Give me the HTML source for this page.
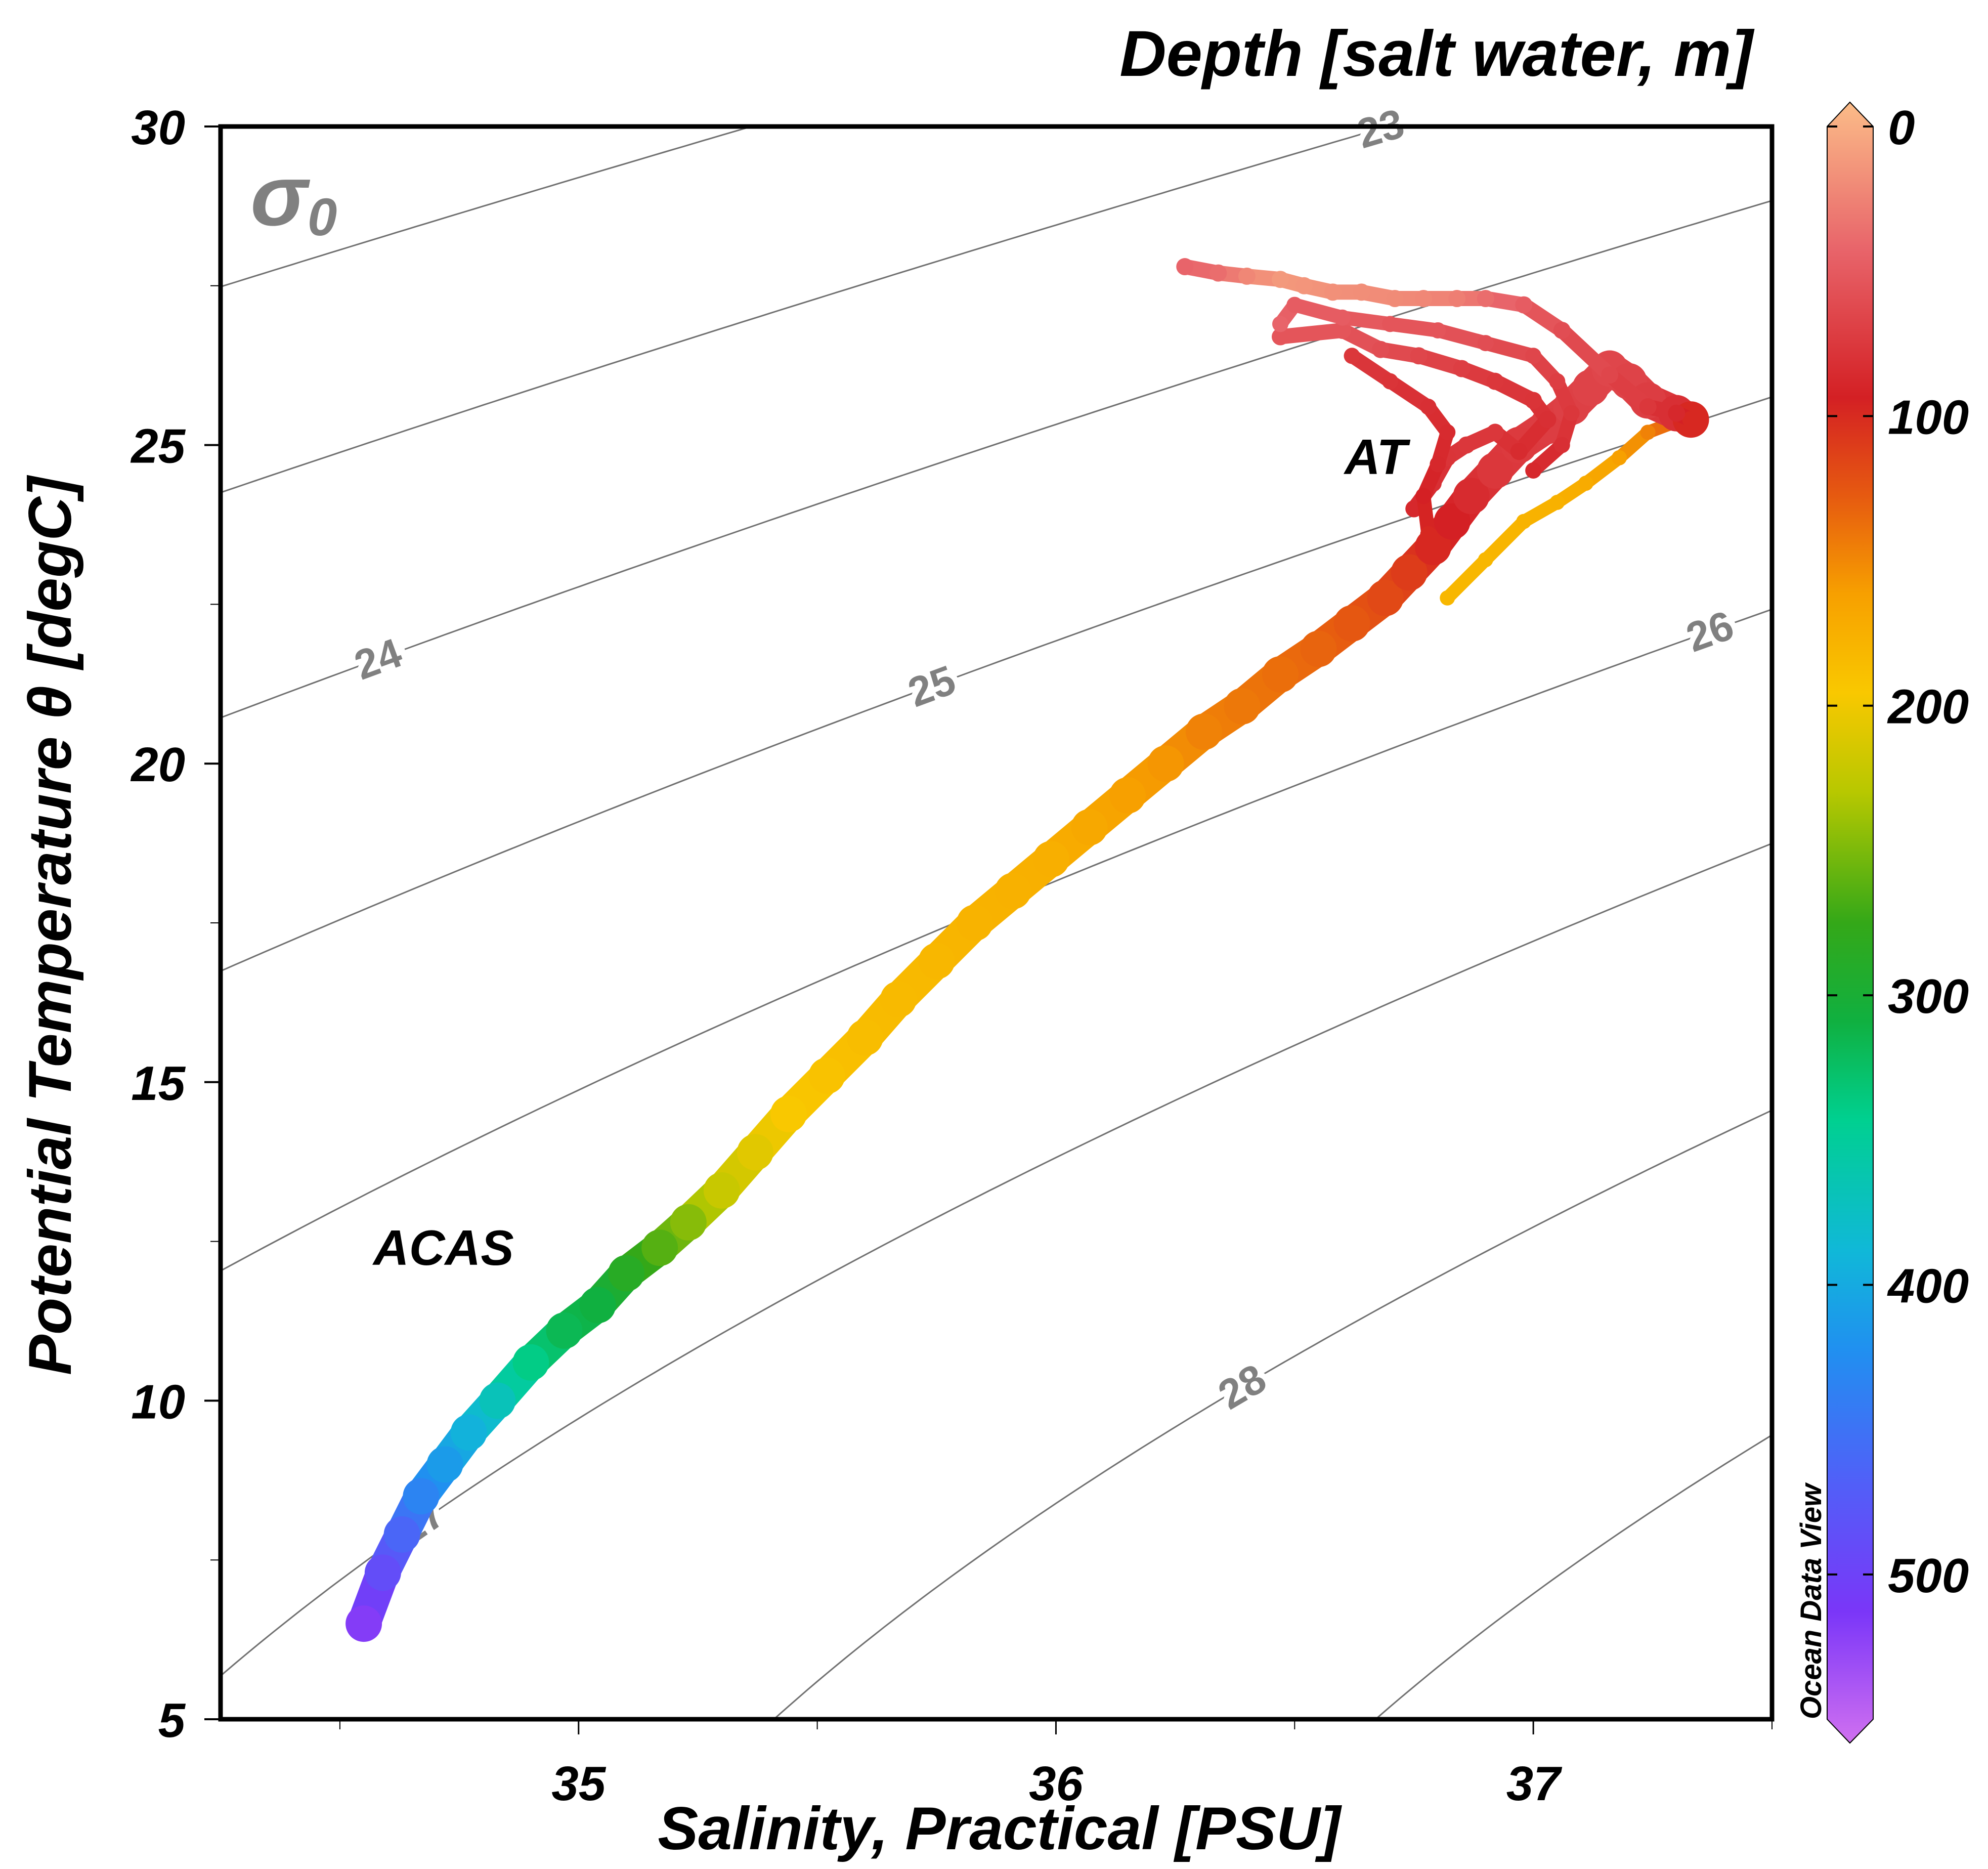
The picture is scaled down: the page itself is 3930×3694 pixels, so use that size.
<!DOCTYPE html>
<html><head><meta charset="utf-8"><style>html,body{margin:0;padding:0;background:#fff;overflow:hidden}svg{display:block}</style></head>
<body>
<svg id="chart" xmlns="http://www.w3.org/2000/svg" width="3930" height="3694" viewBox="0 0 3930 3694" font-family="'Liberation Sans', sans-serif">
<defs>
<linearGradient id="cbgrad" x1="0" y1="0" x2="0" y2="1">
<stop offset="0" stop-color="#fbbc88"/><stop offset="0.09" stop-color="#e8646a"/><stop offset="0.18" stop-color="#d42024"/>
<stop offset="0.24" stop-color="#e65a10"/><stop offset="0.3" stop-color="#f7a000"/><stop offset="0.36" stop-color="#f9c800"/>
<stop offset="0.42" stop-color="#b8c800"/><stop offset="0.5" stop-color="#34a818"/><stop offset="0.56" stop-color="#10b040"/>
<stop offset="0.62" stop-color="#00d090"/><stop offset="0.7" stop-color="#10b8d8"/><stop offset="0.76" stop-color="#2090f0"/>
<stop offset="0.84" stop-color="#5060f8"/><stop offset="0.92" stop-color="#7a36f8"/><stop offset="1" stop-color="#d070f0"/>
</linearGradient>
<clipPath id="plotclip"><rect x="436" y="250" width="3067" height="3148"/></clipPath>
</defs>
<g id="contours" clip-path="url(#plotclip)"></g>
<g id="clabels"></g>
<g id="series" clip-path="url(#plotclip)"></g>
<rect x="436" y="250" width="3067" height="3148" fill="none" stroke="#000" stroke-width="9"/>
<g id="axes"></g>
<text x="495" y="445" font-size="170" font-weight="bold" font-style="italic" fill="#808080">σ<tspan font-size="105" dy="20">0</tspan></text>
<text x="2658" y="937" font-size="98" font-weight="bold" font-style="italic" fill="#000">AT</text>
<text x="738" y="2500" font-size="98" font-weight="bold" font-style="italic" fill="#000">ACAS</text>
<text x="3465" y="150" text-anchor="end" font-size="128" font-weight="bold" font-style="italic">Depth [salt water, m]</text>
<text transform="translate(140,1830) rotate(-90)" text-anchor="middle" font-size="120" font-weight="bold" font-style="italic">Potential Temperature θ [degC]</text>
<text x="1975" y="3655" text-anchor="middle" font-size="120" font-weight="bold" font-style="italic">Salinity, Practical [PSU]</text>
<path d="M3612,3398 V250 L3657,202 L3703,250 V3398 L3657,3445 Z" fill="url(#cbgrad)" stroke="#000" stroke-width="2"/>
<g id="cbticks"></g>
<text transform="translate(3600,3398) rotate(-90)" font-size="58" font-weight="bold" font-style="italic" fill="#000">Ocean Data View</text>
</svg>
<script>
// ---- data ----
const salinity = [34.55,34.59,34.63,34.67,34.72,34.77,34.83,34.9,34.97,35.04,35.1,35.17,35.23,35.3,35.37,35.44,35.52,35.6,35.67,35.75,35.83,35.91,35.99,36.07,36.15,36.23,36.31,36.39,36.47,36.55,36.62,36.69,36.74,36.79,36.83,36.87,36.92,36.97,37.03,37.08,37.12,37.16,37.2,37.24,37.3,37.33];
const temperature = [6.5,7.3,7.9,8.5,9.0,9.5,10.0,10.6,11.1,11.5,12.0,12.4,12.8,13.3,13.9,14.5,15.1,15.7,16.3,16.9,17.5,18.0,18.5,19.0,19.5,20.0,20.5,20.9,21.4,21.8,22.2,22.6,23.0,23.4,23.8,24.2,24.6,25.0,25.3,25.6,25.9,26.2,26.0,25.7,25.5,25.4];
const depth = [510,480,455,430,410,390,370,345,320,310,290,270,255,230,215,200,195,190,188,185,182,180,178,172,165,160,150,145,140,135,128,120,112,100,95,88,80,78,76,74,72,70,72,76,85,100];
// surface loop (upper AT) branch
const salUpper = [37.33,37.3,37.24,37.16,37.06,36.98,36.9,36.84,36.77,36.71,36.64,36.58,36.52,36.47,36.4,36.34,36.27];
const tempUpper = [25.4,25.5,25.6,26.1,26.8,27.2,27.3,27.3,27.3,27.3,27.4,27.4,27.5,27.6,27.65,27.7,27.8];
const depthUpper = [100,90,80,70,65,55,45,35,30,28,26,25,22,20,30,45,50];
// yellow shelf branch
const salShelf = [36.82,36.9,36.98,37.05,37.11,37.18,37.24,37.31];
const tempShelf = [22.6,23.2,23.8,24.1,24.4,24.8,25.2,25.4];
const depthShelf = [185,185,182,180,175,165,150,130];
// inner mixed-layer branch
const salInner = [36.47,36.6,36.68,36.76,36.85,36.92,37.0,37.03,36.97,36.92,36.86,36.82,36.79,36.75];
const tempInner = [26.7,26.8,26.5,26.4,26.2,26.0,25.7,25.4,24.9,25.2,25.0,24.8,24.4,24.0];
const depthInner = [60,60,65,70,75,80,82,85,88,80,80,82,85,90];
// second mixed-layer branch
const salMixed = [36.47,36.5,36.6,36.7,36.8,36.9,37.0,37.05,37.08,37.06,37.0];
const tempMixed = [26.9,27.2,27.0,26.9,26.8,26.6,26.4,26.0,25.5,25.0,24.6];
const depthMixed = [50,55,55,60,60,65,70,75,80,85,90];
// third mixed-layer branch
const salDeep = [36.62,36.7,36.78,36.82,36.8,36.77,36.78];
const tempDeep = [26.4,26.0,25.6,25.2,24.7,24.2,23.6];
const depthDeep = [80,82,85,88,90,95,100];
const xTicks = [35,36,37];
const xMinor = [34.5,35.5,36.5,37.5];
const yTicks = [5,10,15,20,25,30];
const cbTicks = [0,100,200,300,400,500];
const sigmaLevels = [20,21,22,23,24,25,26,27,28,29,30];
const labelLevels = [23,24,25,26,27,28];
const labelSal = [36.68,34.58,35.74,37.37,34.67,36.39];

// ---- scales ----
const L=436,R=3503,T=250,B=3398;
const X=s=>L+(s-34.25)/(37.5-34.25)*(R-L);
const Y=t=>B-(t-5)/(30-5)*(B-T);
const CB=d=>250+d/550*(3398-250);
const NS='http://www.w3.org/2000/svg';
function mk(tag,attrs,parent){const e=document.createElementNS(NS,tag);for(const k in attrs)e.setAttribute(k,attrs[k]);parent.appendChild(e);return e;}

// colormap
const cmapD=[0,50,95,130,165,200,240,280,310,350,385,420,460,505,550];
const cmapC=['#fbbc88','#e8646a','#d42024','#e65a10','#f7a000','#f9c800','#b8c800','#34a818','#10b040','#00d090','#10b8d8','#2090f0','#5060f8','#7a36f8','#d070f0'];
function hex(c){return [1,3,5].map(i=>parseInt(c.substr(i,2),16));}
function color(d){
  d=Math.max(0,Math.min(550,d));
  for(let i=0;i<cmapD.length-1;i++){if(d<=cmapD[i+1]){const f=(d-cmapD[i])/(cmapD[i+1]-cmapD[i]);const a=hex(cmapC[i]),b=hex(cmapC[i+1]);return 'rgb('+a.map((v,j)=>Math.round(v+(b[j]-v)*f)).join(',')+')';}}
  return cmapC[cmapC.length-1];
}

// EOS80 surface density
function sigma(S,t){
  const rw=999.842594+6.793952e-2*t-9.095290e-3*t*t+1.001685e-4*t**3-1.120083e-6*t**4+6.536332e-9*t**5;
  const r=rw+S*(0.824493-4.0899e-3*t+7.6438e-5*t*t-8.2467e-7*t**3+5.3875e-9*t**4)+S**1.5*(-5.72466e-3+1.0227e-4*t-1.6546e-6*t*t)+4.8314e-4*S*S;
  return r-1000;
}
function tFor(S,sig){let lo=-2,hi=40;for(let i=0;i<50;i++){const m=(lo+hi)/2;if(sigma(S,m)>sig)lo=m;else hi=m;}return (lo+hi)/2;}

const cg=document.getElementById('contours');
sigmaLevels.forEach(lev=>{
  let d='';
  for(let s=34.2;s<=37.56;s+=0.02){d+=(d?'L':'M')+X(s).toFixed(1)+','+Y(tFor(s,lev)).toFixed(1);}
  const p=mk('path',{d:d,fill:'none',stroke:'#707070','stroke-width':3},cg);
  
  
});
const lg=document.getElementById('clabels');
labelLevels.forEach((lev,i)=>{
  const s=labelSal[i];const x=X(s),y=Y(tFor(s,lev));
  const x2=X(s+0.02),y2=Y(tFor(s+0.02,lev));
  const ang=Math.atan2(y2-y,x2-x)*180/Math.PI;
  const t=mk('text',{transform:'translate('+x+','+y+') rotate('+ang+')','text-anchor':'middle','dy':'28','font-size':'82','font-weight':'bold',fill:'#808080',stroke:'#fff','stroke-width':'22','paint-order':'stroke'},lg);
  t.textContent=String(lev);
  
  
});

// series
const sg=document.getElementById('series');
function drawSeries(S,Tt,D,w,r,name){
  for(let i=0;i<S.length-1;i++){
    const l=mk('line',{x1:X(S[i]),y1:Y(Tt[i]),x2:X(S[i+1]),y2:Y(Tt[i+1]),stroke:color((D[i]+D[i+1])/2),'stroke-width':w,'stroke-linecap':'round'},sg);
    
    
  }
  for(let i=0;i<S.length;i++){
    const c=mk('circle',{cx:X(S[i]),cy:Y(Tt[i]),r:r,fill:color(D[i])},sg);
    
    
  }
}
drawSeries(salShelf,tempShelf,depthShelf,26,15,'shelf-branch');
drawSeries(salinity,temperature,depth,66,36,'main-profile');
drawSeries(salUpper,tempUpper,depthUpper,30,17,'upper-branch');
drawSeries(salInner,tempInner,depthInner,30,17,'inner-branch');
drawSeries(salMixed,tempMixed,depthMixed,28,16,'mixed-branch');
drawSeries(salDeep,tempDeep,depthDeep,28,16,'deep-mixed-branch');

// axes
const ag=document.getElementById('axes');
xTicks.forEach(v=>{
  const l=mk('line',{x1:X(v),x2:X(v),y1:B,y2:B+30,stroke:'#000','stroke-width':3},ag);
  
  
  const t=mk('text',{x:X(v),y:B+160,'text-anchor':'middle','font-size':'96','font-weight':'bold','font-style':'italic'},ag);
  t.textContent=String(v);
  
  
});
xMinor.forEach(v=>{
  const l=mk('line',{x1:X(v),x2:X(v),y1:B,y2:B+20,stroke:'#000','stroke-width':2},ag);
  
  
});
yTicks.forEach(v=>{
  const l=mk('line',{x1:L-32,x2:L,y1:Y(v),y2:Y(v),stroke:'#000','stroke-width':4},ag);
  
  
  const t=mk('text',{x:L-70,y:Y(v)+35,'text-anchor':'end','font-size':'96','font-weight':'bold','font-style':'italic'},ag);
  t.textContent=String(v);
  
  
  if(v<30){const m=mk('line',{x1:L-20,x2:L,y1:Y(v+2.5),y2:Y(v+2.5),stroke:'#000','stroke-width':2},ag);
  
  }
});
const cbg=document.getElementById('cbticks');
cbTicks.forEach(v=>{
  const y=CB(v);
  const a=mk('line',{x1:3612,x2:3632,y1:y,y2:y,stroke:'#000','stroke-width':4},cbg);
  
  
  const b=mk('line',{x1:3683,x2:3703,y1:y,y2:y,stroke:'#000','stroke-width':4},cbg);
  
  
  const t=mk('text',{x:3732,y:y+35,'font-size':'96','font-weight':'bold','font-style':'italic'},cbg);
  t.textContent=String(v);
  
  
});
</script>
</body></html>
